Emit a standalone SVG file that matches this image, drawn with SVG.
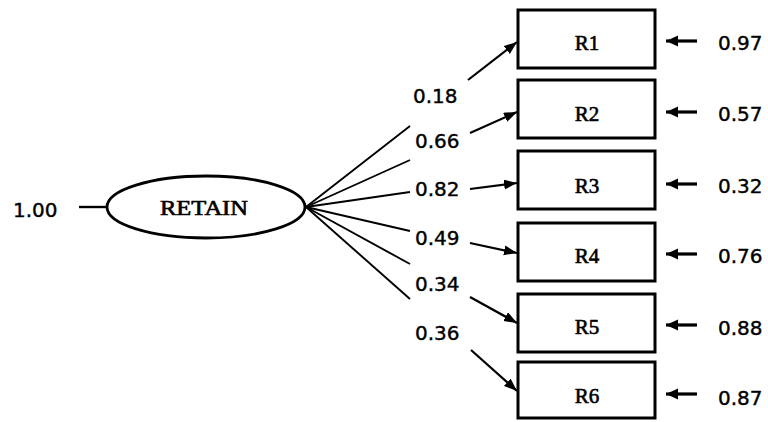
<svg xmlns="http://www.w3.org/2000/svg" width="768" height="422" viewBox="0 0 768 422">
<style>
.box{fill:#fff;stroke:#000;stroke-width:3}
.lbl{font-family:"Liberation Serif","Times New Roman",serif;font-size:21px;fill:#000;stroke:#000;stroke-width:0.6;text-anchor:middle}
.num{font-family:"DejaVu Sans","Liberation Sans",sans-serif;font-size:20px;fill:#000;stroke:#000;stroke-width:0.4}
.ln{stroke:#000;stroke-width:1.9;fill:none}
.ar{stroke:#000;stroke-width:2.2;fill:none;marker-end:url(#ah)}
.ar2{stroke:#000;stroke-width:3.2;fill:none;marker-end:url(#ah2)}
</style>
<defs>
<marker id="ah" markerUnits="userSpaceOnUse" markerWidth="14" markerHeight="12" refX="13" refY="5" orient="auto">
<path d="M0,0 L13,5 L0,10 Z" fill="#000"/>
</marker>
<marker id="ah2" markerUnits="userSpaceOnUse" markerWidth="14" markerHeight="12" refX="12" refY="5.5" orient="auto">
<path d="M0,0 L12,5.5 L0,11 Z" fill="#000"/>
</marker>
</defs>
<rect width="768" height="422" fill="#fff"/>
<g id="connectors">
<line class="ln" x1="79" y1="207" x2="107" y2="207" style="stroke-width:2.4"/>
<line class="ln" x1="306" y1="207" x2="410" y2="126"/>
<line class="ar" x1="468" y1="80" x2="517" y2="42"/>
<line class="ln" x1="306" y1="207" x2="410" y2="160"/>
<line class="ar" x1="470" y1="133" x2="517" y2="112"/>
<line class="ln" x1="306" y1="207" x2="410" y2="192"/>
<line class="ar" x1="470" y1="189" x2="517" y2="183"/>
<line class="ln" x1="306" y1="207" x2="410" y2="231"/>
<line class="ar" x1="470" y1="243" x2="517" y2="253"/>
<line class="ln" x1="306" y1="207" x2="410" y2="264"/>
<line class="ar" x1="470" y1="297" x2="517" y2="323"/>
<line class="ln" x1="306" y1="207" x2="410" y2="299"/>
<line class="ar" x1="471" y1="350" x2="517" y2="391"/>
<line class="ar2" x1="697" y1="41" x2="666" y2="41"/>
<line class="ar2" x1="697" y1="112" x2="666" y2="112"/>
<line class="ar2" x1="697" y1="184" x2="666" y2="184"/>
<line class="ar2" x1="697" y1="254" x2="666" y2="254"/>
<line class="ar2" x1="697" y1="325" x2="666" y2="325"/>
<line class="ar2" x1="697" y1="394" x2="666" y2="394"/>
<text class="num" x="413" y="103">0.18</text>
<text class="num" x="415" y="148">0.66</text>
<text class="num" x="415" y="196">0.82</text>
<text class="num" x="415" y="245">0.49</text>
<text class="num" x="415" y="291">0.34</text>
<text class="num" x="415" y="340">0.36</text>
</g>
<g id="retain">
<ellipse cx="206" cy="207" rx="99" ry="31" fill="#fff" stroke="#000" stroke-width="2.8"/>
<text class="lbl" x="204" y="215" textLength="88" lengthAdjust="spacingAndGlyphs" style="font-size:20px">RETAIN</text>
<text class="num" x="13" y="217">1.00</text>
</g>
<g id="r1"><rect class="box" x="518" y="10" width="137" height="58"/><text class="lbl" x="587" y="50">R1</text><text class="num" x="718" y="50">0.97</text></g>
<g id="r2"><rect class="box" x="518" y="80" width="137" height="58"/><text class="lbl" x="587" y="121">R2</text><text class="num" x="718" y="121">0.57</text></g>
<g id="r3"><rect class="box" x="518" y="151" width="137" height="58"/><text class="lbl" x="587" y="193">R3</text><text class="num" x="718" y="193">0.32</text></g>
<g id="r4"><rect class="box" x="518" y="223" width="137" height="58"/><text class="lbl" x="587" y="263">R4</text><text class="num" x="718" y="263">0.76</text></g>
<g id="r5"><rect class="box" x="518" y="294" width="137" height="58"/><text class="lbl" x="587" y="334">R5</text><text class="num" x="718" y="335">0.88</text></g>
<g id="r6"><rect class="box" x="518" y="362" width="137" height="56"/><text class="lbl" x="587" y="403">R6</text><text class="num" x="718" y="405">0.87</text></g>
</svg>
